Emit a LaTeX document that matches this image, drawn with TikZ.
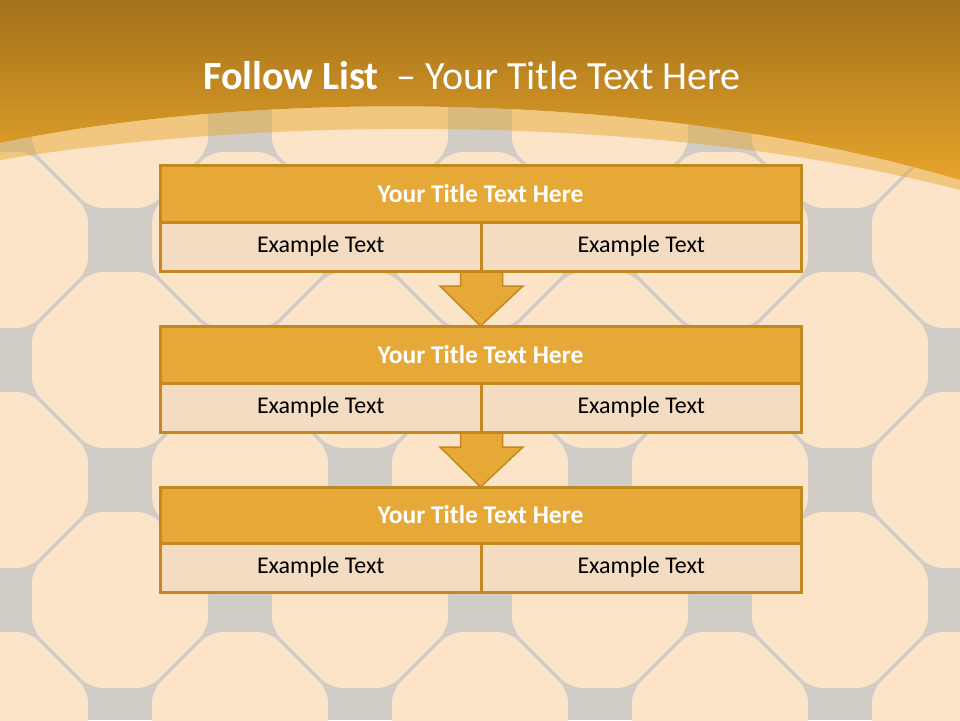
\documentclass[tikz,border=0pt]{standalone}
\usepackage{fontspec}
\setmainfont{Carlito}
\usetikzlibrary{calc}
\pgfdeclarelayer{bg}
\pgfdeclarelayer{arr}
\pgfsetlayers{bg,arr,main}
\definecolor{hdrtop}{HTML}{A3711A}
\definecolor{hdrbot}{HTML}{E6A42B}
\definecolor{tile}{HTML}{FBE4C7}
\definecolor{grout}{HTML}{D1CCC5}
\definecolor{boxline}{HTML}{C3891F}
\definecolor{boxtitle}{HTML}{E6A937}
\definecolor{boxsub}{HTML}{F4DCC2}
\tikzset{
  rowtitle/.style={draw=boxline, line width=3pt, fill=boxtitle, minimum width=641pt,
    minimum height=57pt, inner sep=0pt, outer sep=0pt, text=white,
    font=\fontsize{25.5}{30}\selectfont\bfseries},
  cell/.style={draw=boxline, line width=3pt, fill=boxsub, minimum height=49pt,
    inner sep=0pt, outer sep=0pt, text=black, font=\fontsize{24}{28}\selectfont},
  arrowbody/.style={fill=boxtitle, draw=boxline, line width=1.5pt, line join=miter},
  tileshape/.style={fill=tile, rounded corners=12pt},
  headtitle/.style={text=white, font=\fontsize{40}{48}\selectfont, inner sep=0pt}
}
\begin{document}
\begin{tikzpicture}[x=1pt,y=-1pt]
\useasboundingbox (0,0) rectangle (960,720);
\begin{pgfonlayer}{bg}
  \fill[grout] (0,0) rectangle (960,720);
  \foreach \i in {0,...,8}{
    \foreach \j in {0,...,6}{
      \pgfmathtruncatemacro{\myparity}{mod(\i+\j,2)}
      \ifnum\myparity=0
        \fill[tileshape, shift={(120*\i,120*\j)}]
          (88,29.5) -- (29.5,88) -- (-29.5,88) -- (-88,29.5) -- (-88,-29.5)
          -- (-29.5,-88) -- (29.5,-88) -- (88,-29.5) -- cycle;
      \fi
    }
  }
  \shade[top color=hdrtop, bottom color=hdrbot]
    (0,0) -- (960,0) -- (960,180) .. controls (650,88) and (250,90) .. (0,143) -- cycle;
  \fill[hdrbot, opacity=0.45]
    (0,143) .. controls (250,90) and (650,88) .. (960,180) -- (960,190)
    .. controls (650,110) and (250,118) .. (0,160) -- cycle;
\end{pgfonlayer}

\node[headtitle] (title) at (472,76) {\textbf{Follow List}\ \ – Your Title Text Here};

\node[rowtitle] (t1) at (480.5,193.5) {Your Title Text Here};
\node[cell, minimum width=321.5pt] (l1) at (320.75,246.5) {Example Text};
\node[cell, minimum width=319.5pt] (r1) at (641.25,246.5) {Example Text};

\node[rowtitle] (t2) at (480.5,354.5) {Your Title Text Here};
\node[cell, minimum width=321.5pt] (l2) at (320.75,407.5) {Example Text};
\node[cell, minimum width=319.5pt] (r2) at (641.25,407.5) {Example Text};

\node[rowtitle, minimum height=56pt] (t3) at (480.5,515) {Your Title Text Here};
\node[cell, minimum width=321.5pt] (l3) at (320.75,567.5) {Example Text};
\node[cell, minimum width=319.5pt] (r3) at (641.25,567.5) {Example Text};

\begin{pgfonlayer}{arr}
  \foreach \a/\b in {l1/t2, l2/t3}{
    \draw[arrowbody] ($(\a.south east)+(-21,-2)$) -- ($(\a.south east)+(-21,15)$)
      -- ($(\a.south east)+(-41.5,15)$) -- (\b.north)
      -- ($(\a.south east)+(41.5,15)$) -- ($(\a.south east)+(21,15)$)
      -- ($(\a.south east)+(21,-2)$);
  }
\end{pgfonlayer}
\end{tikzpicture}
\end{document}
